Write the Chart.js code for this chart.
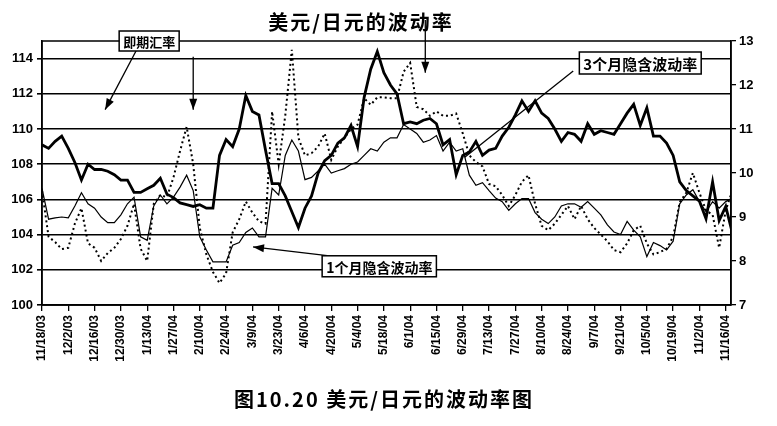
<!DOCTYPE html>
<html>
<head>
<meta charset="utf-8">
<script src="https://cdn.jsdelivr.net/npm/chart.js@4.4.0/dist/chart.umd.min.js"></script>
<style>
  html, body { margin: 0; padding: 0; background: #fff; }
  #wrap { width: 777px; height: 426px; }
</style>
</head>
<body>
<div id="wrap"><canvas id="volChart" width="777" height="426"></canvas></div>
<script>
// x is counted in steps of ~3.5 days, 4 steps between date labels
const tickDates = ['11/18/03','12/2/03','12/16/03','12/30/03','1/13/04','1/27/04','2/10/04','2/24/04',
  '3/9/04','3/23/04','4/6/04','4/20/04','5/4/04','5/18/04','6/1/04','6/15/04','6/29/04','7/13/04',
  '7/27/04','8/10/04','8/24/04','9/7/04','9/21/04','10/5/04','10/19/04','11/2/04','11/16/04'];
const stepsPerTick = 4;

// spot USD/JPY (left axis)
const spotRate = [109.1,108.9,109.3,109.6,108.9,108.1,107.1,108.0,107.7,107.7,
  107.6,107.4,107.1,107.1,106.4,106.4,106.6,106.8,107.2,106.3,
  106.1,105.8,105.7,105.6,105.7,105.5,105.5,108.5,109.4,109.0,
  110.0,111.9,111.0,110.8,108.8,106.9,106.9,106.2,105.3,104.4,
  105.5,106.2,107.5,108.2,108.5,109.2,109.5,110.2,109.0,111.8,
  113.4,114.4,113.2,112.5,112.0,110.3,110.4,110.3,110.5,110.6,
  110.3,109.1,109.4,107.4,108.5,108.7,109.3,108.5,108.8,108.9,
  109.6,110.1,110.8,111.6,111.0,111.6,110.9,110.6,110.0,109.3,
  109.8,109.7,109.3,110.3,109.7,109.9,109.8,109.7,110.3,110.9,
  111.4,110.2,111.2,109.6,109.6,109.2,108.5,107.0,106.5,106.2,
  105.9,104.9,107.0,104.8,105.6,104.1];

// 3-month implied vol (right axis)
const vol3m = [9.65,8.95,8.98,9.0,8.98,9.25,9.55,9.3,9.2,9.0,
  8.87,8.87,9.05,9.3,9.45,8.55,8.47,9.25,9.5,9.3,
  9.45,9.68,9.95,9.6,8.55,8.25,7.98,7.98,7.98,8.36,
  8.42,8.65,8.75,8.55,8.55,9.65,9.5,10.4,10.75,10.5,
  9.85,9.9,10.05,10.2,10.0,10.05,10.1,10.2,10.25,10.4,
  10.55,10.5,10.7,10.8,10.8,11.1,11.0,10.9,10.7,10.75,
  10.85,10.5,10.7,10.5,10.55,9.95,9.72,9.78,9.6,9.43,
  9.35,9.15,9.3,9.42,9.42,9.1,8.95,8.85,9.0,9.25,
  9.3,9.3,9.22,9.35,9.2,9.05,8.82,8.66,8.6,8.9,
  8.7,8.55,8.1,8.42,8.35,8.25,8.45,9.3,9.5,9.62,
  9.35,9.12,9.35,9.2,9.35,9.43];

// 1-month implied vol (right axis)
const vol1m = [9.6,8.55,8.43,8.27,8.3,8.85,9.2,8.4,8.3,8.0,
  8.18,8.3,8.5,8.8,9.3,8.28,8.0,9.3,9.5,9.45,
  9.9,10.5,11.05,10.2,8.75,8.15,7.75,7.5,7.72,8.65,
  8.95,9.35,9.1,8.9,8.85,11.4,10.2,11.3,12.8,10.8,
  10.4,10.45,10.6,10.9,10.3,10.6,10.8,11.0,11.1,11.7,
  11.55,11.72,11.72,11.7,11.7,12.3,12.5,11.5,11.45,11.3,
  11.4,11.3,11.3,11.35,10.9,10.4,10.25,10.15,9.75,9.7,
  9.5,9.25,9.5,9.8,9.95,9.3,8.8,8.7,8.85,9.05,
  9.25,8.95,9.25,8.95,8.75,8.6,8.45,8.25,8.2,8.4,
  8.7,8.8,8.4,8.15,8.2,8.28,8.55,9.34,9.55,10.0,
  9.55,9.15,9.05,8.3,9.15,9.6];

const toPoints = arr => arr.map((v, i) => ({ x: i, y: v }));

const CJK = '"Noto Sans CJK SC", sans-serif';

// callouts, placed in data units (x step, left-axis value)
const callouts = [
  { text: '即期汇率', x: 16.3, y: 115.0, size: 13 },
  { text: '3个月隐含波动率', x: 91.0, y: 113.75, size: 15 },
  { text: '1个月隐含波动率', x: 51.3, y: 102.2, size: 14 }
];
const pointers = [
  { from: [14.4, 114.5], to: [9.6, 111.1], head: true },
  { from: [23.0, 114.1], to: [23.0, 111.1], head: true },
  { from: [58.3, 116.2], to: [58.3, 113.2], head: true },
  { from: [80.8, 113.3], to: [64.3, 108.4], head: false },
  { from: [43.4, 102.8], to: [32.1, 103.3], head: true }
];

function drawArrow(ctx, x1, y1, x2, y2, head) {
  ctx.beginPath();
  ctx.moveTo(x1, y1);
  ctx.lineTo(x2, y2);
  ctx.stroke();
  if (!head) return;
  const a = Math.atan2(y2 - y1, x2 - x1), len = 11, w = 4;
  ctx.beginPath();
  ctx.moveTo(x2, y2);
  ctx.lineTo(x2 - len * Math.cos(a) + w * Math.sin(a), y2 - len * Math.sin(a) - w * Math.cos(a));
  ctx.lineTo(x2 - len * Math.cos(a) - w * Math.sin(a), y2 - len * Math.sin(a) + w * Math.cos(a));
  ctx.closePath();
  ctx.fill();
}

const decorPlugin = {
  id: 'decor',
  afterDatasetsDraw(chart) {
    const { ctx, chartArea: a, scales } = chart;
    ctx.save();
    ctx.strokeStyle = '#000';
    ctx.fillStyle = '#000';
    ctx.lineWidth = 1.5;
    ctx.strokeRect(a.left, a.top, a.right - a.left, a.bottom - a.top);

    ctx.lineWidth = 1.3;
    pointers.forEach(p => {
      drawArrow(ctx,
        scales.x.getPixelForValue(p.from[0]), scales.y.getPixelForValue(p.from[1]),
        scales.x.getPixelForValue(p.to[0]), scales.y.getPixelForValue(p.to[1]), p.head);
    });

    ctx.textAlign = 'center';
    ctx.textBaseline = 'middle';
    callouts.forEach(c => {
      ctx.font = 'bold ' + c.size + 'px ' + CJK;
      const w = ctx.measureText(c.text).width + 8, h = c.size + 7;
      const cx = scales.x.getPixelForValue(c.x), cy = scales.y.getPixelForValue(c.y);
      ctx.fillStyle = '#fff';
      ctx.fillRect(cx - w / 2, cy - h / 2, w, h);
      ctx.lineWidth = 1.5;
      ctx.strokeRect(cx - w / 2, cy - h / 2, w, h);
      ctx.fillStyle = '#000';
      ctx.fillText(c.text, cx, cy + 1);
    });

    ctx.font = 'bold 20px ' + CJK;
    ctx.letterSpacing = '2px';
    ctx.fillText('美元/日元的波动率', 361, 22);
    ctx.font = 'bold 20px ' + CJK;
    ctx.letterSpacing = '2px';
    ctx.fillText('图10.20 美元/日元的波动率图', 384, 399);
    ctx.restore();
  }
};

const tickFont = { family: '"Liberation Sans", Arial, sans-serif', size: 13, weight: 'bold' };

new Chart(document.getElementById('volChart'), {
  type: 'line',
  data: {
    datasets: [
      { label: '即期汇率', data: toPoints(spotRate), yAxisID: 'y',
        borderColor: '#000', borderWidth: 2.8, pointRadius: 0, tension: 0 },
      { label: '3个月隐含波动率', data: toPoints(vol3m), yAxisID: 'y1',
        borderColor: '#000', borderWidth: 1.2, pointRadius: 0, tension: 0 },
      { label: '1个月隐含波动率', data: toPoints(vol1m), yAxisID: 'y1',
        borderColor: '#000', borderWidth: 2, borderDash: [2, 3], pointRadius: 0, tension: 0 }
    ]
  },
  options: {
    responsive: false,
    animation: false,
    layout: { padding: { top: 41, left: 0, right: 0, bottom: 0 } },
    plugins: { legend: { display: false }, title: { display: false }, tooltip: { enabled: false } },
    scales: {
      x: {
        type: 'linear',
        min: 0,
        max: 104.8,
        afterBuildTicks: s => { s.ticks = tickDates.map((d, i) => ({ value: i * stepsPerTick })); },
        afterFit: s => { s.height = 121; },
        ticks: {
          autoSkip: false, minRotation: 90, maxRotation: 90, color: '#000', padding: 4,
          font: { family: '"Liberation Sans", Arial, sans-serif', size: 12, weight: 'bold' },
          callback: v => tickDates[Math.round(v / stepsPerTick)]
        },
        grid: { drawOnChartArea: false, color: '#000', tickLength: 6, lineWidth: 1.3 },
        border: { color: '#000', width: 1.5 }
      },
      y: {
        position: 'left',
        min: 100,
        max: 115,
        afterBuildTicks: s => { s.ticks = s.ticks.filter(t => t.value <= 114); },
        afterFit: s => { s.width = 42; },
        ticks: { stepSize: 2, color: '#000', font: tickFont, padding: 4 },
        grid: { color: '#000', lineWidth: 1.6, tickLength: 5 },
        border: { color: '#000', width: 1.5 }
      },
      y1: {
        position: 'right',
        min: 7,
        max: 13,
        afterFit: s => { s.width = 46; },
        ticks: { stepSize: 1, color: '#000', font: tickFont, padding: 3 },
        grid: { drawOnChartArea: false, color: '#000', lineWidth: 1.3, tickLength: 5 },
        border: { color: '#000', width: 1.5 }
      }
    }
  },
  plugins: [decorPlugin]
});
</script>
</body>
</html>
